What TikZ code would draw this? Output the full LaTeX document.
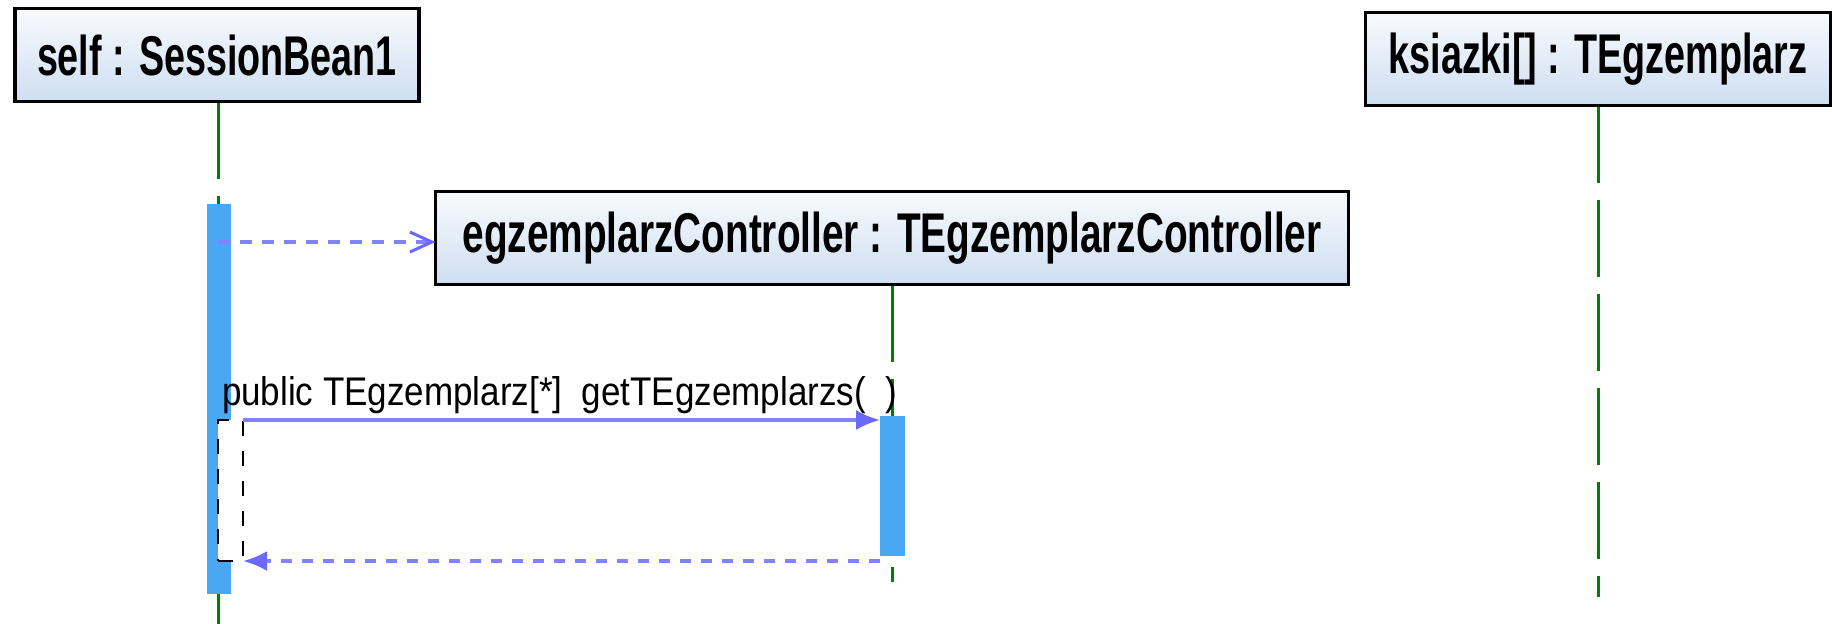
\documentclass[tikz,border=0pt]{standalone}
\usepackage{fontspec}
\setmainfont{Liberation Sans}
\usepackage{graphicx}
\usetikzlibrary{arrows.meta}
\definecolor{boxtop}{RGB}{248,250,254}
\definecolor{boxbot}{RGB}{206,222,241}
\definecolor{actblue}{RGB}{74,168,242}
\definecolor{lifegreen}{RGB}{0,128,0}
\definecolor{msgblue}{RGB}{130,130,255}
\definecolor{tipblue}{RGB}{105,105,255}
\pgfdeclarelayer{bg}
\pgfsetlayers{bg,main}
\begin{document}
\begin{tikzpicture}[x=0.5pt,y=-0.5pt,
  objbox/.style={draw=black, line width=1.6pt, top color=boxtop, bottom color=boxbot,
    inner sep=0pt, outer sep=0pt, minimum height=46.5pt,
    font=\fontsize{28}{32}\selectfont\bfseries},
  lifeline/.style={draw=lifegreen, line width=1.5pt, dash pattern=on 38.5pt off 8.5pt},
  actbar/.style={fill=actblue, inner sep=0pt, outer sep=0pt},
  selfact/.style={draw=black, fill=white, line width=1.1pt, dash pattern=on 7.5pt off 7.5pt,
    inner sep=0pt, outer sep=0pt, minimum width=12.5pt, minimum height=70.5pt},
  createmsg/.style={draw=msgblue, line width=1.6pt, dash pattern=on 6pt off 5pt,
    -{Straight Barb[length=11pt,width=10pt,color=tipblue,line width=1.5pt]}},
  callmsg/.style={draw=msgblue, line width=1.6pt, -{Latex[length=12pt,width=10pt,color=tipblue]}},
  retmsg/.style={draw=msgblue, line width=1.7pt, dash pattern=on 5.5pt off 5pt,
    -{Latex[length=12pt,width=10pt,color=tipblue]}},
  msglabel/.style={inner sep=0pt, outer sep=0pt, anchor=base west, font=\fontsize{20}{24}\selectfont}
]
\useasboundingbox (0,0) rectangle (1832,623);

% object boxes
\node[objbox, minimum width=202pt] (self) at (217,55)
  {\resizebox{180pt}{\height}{self : SessionBean1}};
\node[objbox, minimum width=456.5pt] (ctrl) at (892,238)
  {\resizebox{429.5pt}{\height}{egzemplarzController : TEgzemplarzController}};
\node[objbox, minimum width=232.5pt] (ksi) at (1598,59)
  {\resizebox{209.5pt}{\height}{ksiazki[] : TEgzemplarz}};

% lifeline ends
\coordinate (selfend) at (218,625);
\coordinate (ctrlend) at (892,582);
\coordinate (ksiend) at (1598,597);

\begin{pgfonlayer}{bg}
  \draw[lifeline] (self.south -| selfend) -- (selfend);
  \draw[lifeline] (ctrl.south) -- (ctrlend);
  \draw[lifeline] (ksi.south) -- (ksiend);
\end{pgfonlayer}

% activation bars
\node[actbar, minimum width=12pt, minimum height=195pt] (bar1) at (219,399) {};
\node[actbar, minimum width=12.5pt, minimum height=70pt] (bar2) at (892.5,486) {};

% nested self activation
\node[selfact] (act2) at (230.5,490.5) {};

% messages
\coordinate (cstart) at (218,242);
\draw[createmsg] (cstart) -- (cstart -| ctrl.west);

\draw[callmsg] (act2.north east) -- (act2.north east -| bar2.west);
\node[msglabel] (calllbl) at (222,405)
  {\resizebox{337.5pt}{\height}{public TEgzemplarz[*]\ \ getTEgzemplarzs(\ \ )}};

\draw[retmsg] (act2.south east -| bar2.west) -- (act2.south east);
\end{tikzpicture}
\end{document}
